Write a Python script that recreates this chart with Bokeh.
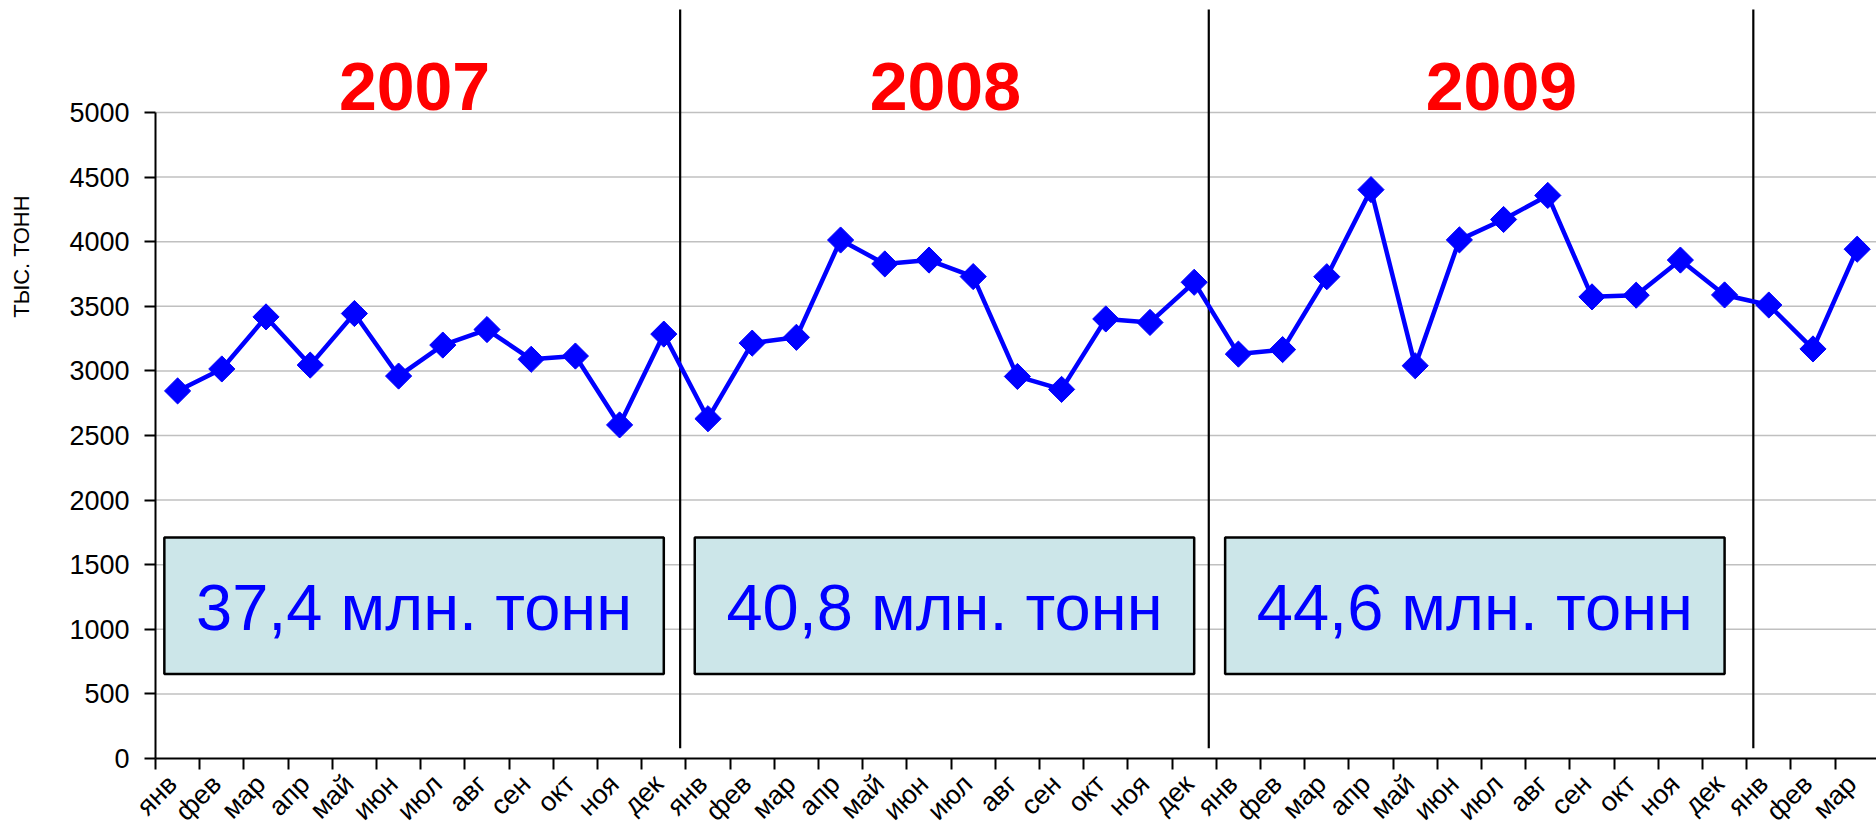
import math
from bokeh.plotting import figure
from bokeh.models import FixedTicker, CustomJSTickFormatter, ColumnDataSource
from bokeh.core.properties import value
from bokeh.embed import file_html
from bokeh.resources import INLINE

# ---- data ----
month_names = ["янв", "фев", "мар", "апр", "май", "июн", "июл", "авг", "сен", "окт", "ноя", "дек"]
values_2007 = [2845, 3015, 3418, 3045, 3444, 2960, 3200, 3320, 3090, 3115, 2582, 3285]
values_2008 = [2630, 3215, 3260, 4013, 3828, 3858, 3730, 2957, 2857, 3402, 3375, 3686]
values_2009 = [3130, 3165, 3729, 4403, 3040, 4014, 4172, 4358, 3573, 3586, 3858, 3588]
values_2010 = [3510, 3170, 3942]
years = ["2007", "2008", "2009"]
year_totals = ["37,4 млн. тонн", "40,8 млн. тонн", "44,6 млн. тонн"]
y_ticks = [0, 500, 1000, 1500, 2000, 2500, 3000, 3500, 4000, 4500, 5000]
y_axis_title = "ТЫС. ТОНН"

series = values_2007 + values_2008 + values_2009 + values_2010
n = len(series)
labels = (month_names * 4)[:n]
xs = [i + 0.5 for i in range(n)]

FONT = "Liberation Sans"
X0, X1 = -3.507, 38.937
Y0, Y1 = -549.5, 5866.9
SEP_TOP = 5797

p = figure(width=1876, height=829, x_range=(X0, X1), y_range=(Y0, Y1),
           output_backend="svg", toolbar_location=None,
           min_border_left=0, min_border_right=0, min_border_top=0, min_border_bottom=0)
p.outline_line_color = None
p.background_fill_color = "white"
p.xgrid.visible = False
p.ygrid.visible = False

# manual horizontal grid lines (start at the value axis)
grid_y = [t for t in y_ticks if t > 0]
p.segment(x0=[0] * len(grid_y), x1=[X1] * len(grid_y), y0=grid_y, y1=grid_y,
          line_color="#C0C0C0", line_width=1.5)

# y axis
p.yaxis.fixed_location = 0
p.yaxis.ticker = FixedTicker(ticks=y_ticks)
p.yaxis.bounds = (0, 5000)
p.yaxis.axis_line_width = 2
p.yaxis.major_tick_line_width = 2
p.yaxis.major_tick_out = 11
p.yaxis.major_tick_in = 0
p.yaxis.minor_tick_line_color = None
p.yaxis.major_label_standoff = 15
p.yaxis.major_label_text_font = FONT
p.yaxis.major_label_text_font_size = "27px"
p.yaxis.major_label_text_color = "black"

# x axis (labels anchored slightly left of the category centre, as in the original)
p.xaxis.fixed_location = 0
p.xaxis.bounds = (0, n)
p.xaxis.ticker = FixedTicker(ticks=[i + 0.38 for i in range(n)], minor_ticks=list(range(n + 1)))
p.xaxis.formatter = CustomJSTickFormatter(args=dict(labels=labels),
                                          code="const i = Math.floor(tick); return labels[i] || '';")
p.xaxis.major_label_orientation = math.pi / 4
p.xaxis.major_tick_line_color = None
p.xaxis.major_tick_out = 0
p.xaxis.major_tick_in = 0
p.xaxis.minor_tick_out = 11
p.xaxis.minor_tick_in = 0
p.xaxis.minor_tick_line_color = "black"
p.xaxis.minor_tick_line_width = 2
p.xaxis.axis_line_width = 2
p.xaxis.major_label_standoff = 10
p.xaxis.major_label_text_font = FONT
p.xaxis.major_label_text_font_size = "27px"
p.xaxis.major_label_text_color = "black"

# year separators
sep_x = [12 - 0.13, 24 - 0.17, 36 + 0.15]
p.segment(x0=sep_x, x1=sep_x, y0=[80] * 3, y1=[SEP_TOP] * 3, line_color="black", line_width=2.2)

# totals boxes
starts = [0, 12, 24]
p.quad(left=[s + 0.2 for s in starts], right=[s + 11.5 for s in starts],
       bottom=[655] * 3, top=[1710] * 3, fill_color="#CCE6E9", line_color="black", line_width=2.5)
p.text(x=[s + 5.85 for s in starts], y=[1165] * 3, text=year_totals,
       text_font=value(FONT), text_font_size="65px", text_color="#0000FF",
       text_align="center", text_baseline="middle")

# year titles
p.text(x=[5.86, 17.87, 30.45], y=[5200] * 3, text=years,
       text_font=value(FONT), text_font_size="68px", text_font_style="bold",
       text_color="#FF0000", text_align="center", text_baseline="middle")

# series
src = ColumnDataSource(dict(x=xs, y=series))
p.line("x", "y", source=src, line_color="#0000FF", line_width=4.5)
p.scatter("x", "y", source=src, marker="square", angle=math.pi / 4, size=18.5,
          fill_color="#0000FF", line_color="#0000FF")

# y axis title
p.text(x=[-3.03], y=[3885], text=[y_axis_title], angle=math.pi / 2,
       text_font=value(FONT), text_font_size="22px", text_color="black",
       text_align="center", text_baseline="middle")

open("out.html", "w").write(file_html(p, INLINE))
